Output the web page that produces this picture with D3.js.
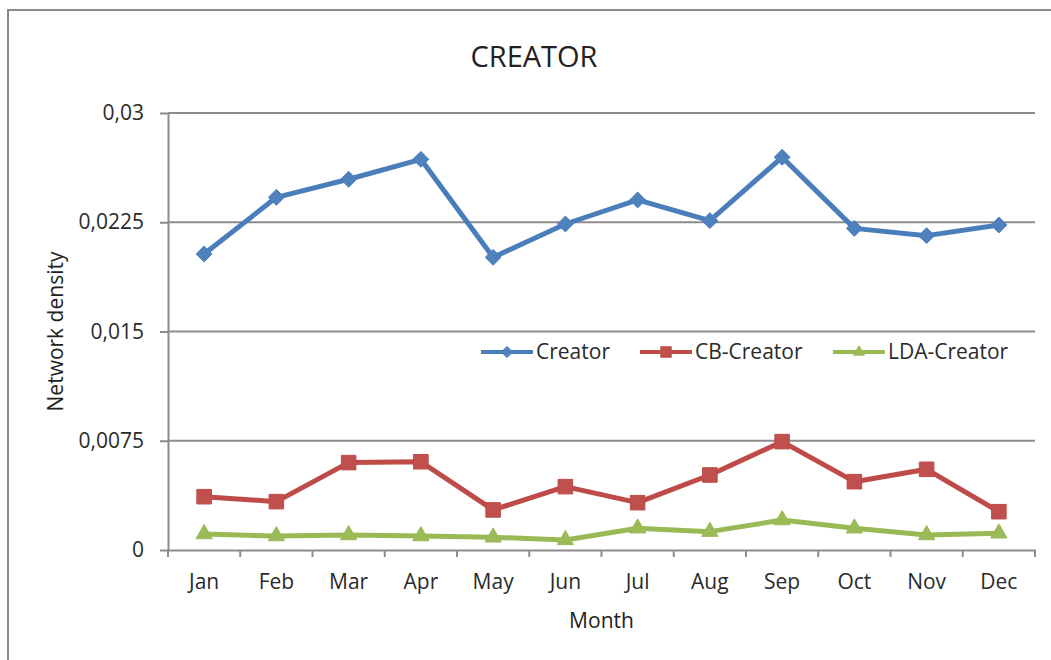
<!DOCTYPE html>
<html>
<head>
<meta charset="utf-8">
<script src="https://cdn.jsdelivr.net/npm/d3@7/dist/d3.min.js"></script>
<style>
  html, body { margin: 0; padding: 0; background: #fff; }
  svg { display: block; font-family: "Open Sans", "Noto Sans", sans-serif; }
</style>
</head>
<body>
<svg id="chart" width="1051" height="660"></svg>
<script>
// Monthly network density for the three creator networks
const months = ["Jan", "Feb", "Mar", "Apr", "May", "Jun", "Jul", "Aug", "Sep", "Oct", "Nov", "Dec"];
const creator = [0.02032, 0.02421, 0.02545, 0.02682, 0.02009, 0.02238, 0.02403, 0.02261, 0.02696, 0.02208, 0.02158, 0.02231];
const cbCreator = [0.00366, 0.00332, 0.00600, 0.00606, 0.00275, 0.00435, 0.00325, 0.00515, 0.00744, 0.00469, 0.00554, 0.00263];
const ldaCreator = [0.00110, 0.00096, 0.00103, 0.00096, 0.00087, 0.00069, 0.00149, 0.00126, 0.00206, 0.00149, 0.00103, 0.00115];
const yTicks = [0, 0.0075, 0.015, 0.0225, 0.03];
const yTickLabels = ["0", "0,0075", "0,015", "0,0225", "0,03"];
const seriesNames = ["Creator", "CB-Creator", "LDA-Creator"];

const series = [
  { name: seriesNames[0], values: creator, line: "#4A7EBB", fill: "#4F81BD", symbol: d3.symbolDiamond2, size: 160, legendSize: 80 },
  { name: seriesNames[1], values: cbCreator, line: "#BE4B48", fill: "#C0504D", symbol: d3.symbolSquare2, size: 270, legendSize: 140 },
  { name: seriesNames[2], values: ldaCreator, line: "#98B954", fill: "#9BBB59", symbol: d3.symbolTriangle2, size: 190, legendSize: 85 }
];

const svg = d3.select("#chart");
const plot = { left: 168, right: 1035, top: 113, bottom: 550 };

// Chart frame
svg.append("rect")
  .attr("x", 8).attr("y", 10)
  .attr("width", 1100).attr("height", 700)
  .attr("fill", "#fff")
  .attr("stroke", "#8a8a8a").attr("stroke-width", 2);

const x = d3.scaleBand().domain(months).range([plot.left, plot.right]);
const y = d3.scaleLinear().domain([0, 0.03]).range([plot.bottom, plot.top]);
const cx = m => x(m) + x.bandwidth() / 2;

// Horizontal gridlines
svg.append("g")
  .selectAll("line")
  .data(yTicks.filter(t => t > 0))
  .join("line")
  .attr("x1", plot.left).attr("x2", plot.right)
  .attr("y1", d => y(d)).attr("y2", d => y(d))
  .attr("stroke", "#8c8c8c").attr("stroke-width", 2);

// Y axis
const yAxis = svg.append("g")
  .attr("transform", `translate(${plot.left},0)`)
  .call(d3.axisLeft(y).tickValues(yTicks)
    .tickFormat((d, i) => yTickLabels[i])
    .tickSize(8).tickSizeOuter(0).tickPadding(16));
yAxis.select(".domain").attr("stroke", "#8c8c8c").attr("stroke-width", 2);
yAxis.selectAll(".tick line").attr("stroke", "#8c8c8c").attr("stroke-width", 2);
yAxis.selectAll(".tick text")
  .attr("font-size", 21).attr("fill", "#2a2a2a")
  .attr("font-family", "'Open Sans', sans-serif");

// X axis: labels centred in each band, tick marks on band boundaries
const xAxis = svg.append("g")
  .attr("transform", `translate(0,${plot.bottom})`)
  .call(d3.axisBottom(x).tickSize(0).tickPadding(24));
xAxis.select(".domain").attr("stroke", "#8c8c8c").attr("stroke-width", 2);
xAxis.selectAll(".tick text")
  .attr("font-size", 21).attr("fill", "#2a2a2a")
  .attr("font-family", "'Open Sans', sans-serif");
const boundaries = months.map(m => x(m)).concat([x(months[months.length - 1]) + x.bandwidth()]);
xAxis.append("g")
  .selectAll("line")
  .data(boundaries)
  .join("line")
  .attr("x1", d => d).attr("x2", d => d)
  .attr("y1", 0).attr("y2", 7)
  .attr("stroke", "#8c8c8c").attr("stroke-width", 2);

// Series lines and markers
const line = d3.line().x((d, i) => cx(months[i])).y(d => y(d));
series.forEach(s => {
  svg.append("path")
    .datum(s.values)
    .attr("d", line)
    .attr("fill", "none")
    .attr("stroke", s.line)
    .attr("stroke-width", 5)
    .attr("stroke-linejoin", "round");
  svg.append("g")
    .selectAll("path")
    .data(s.values)
    .join("path")
    .attr("transform", (d, i) => `translate(${cx(months[i])},${y(d)})`)
    .attr("d", d3.symbol().type(s.symbol).size(s.size))
    .attr("fill", s.fill)
    .attr("stroke", s.line)
    .attr("stroke-width", 1);
});

// Legend
const legendX = [481, 640, 833];
const legendY = 352;
series.forEach((s, i) => {
  const g = svg.append("g").attr("transform", `translate(${legendX[i]},${legendY})`);
  g.append("line")
    .attr("x1", 0).attr("x2", 52).attr("y1", 0).attr("y2", 0)
    .attr("stroke", s.line).attr("stroke-width", 4);
  g.append("path")
    .attr("transform", "translate(26,0)")
    .attr("d", d3.symbol().type(s.symbol).size(s.legendSize))
    .attr("fill", s.fill).attr("stroke", s.line);
  g.append("text")
    .attr("x", 55).attr("y", 0).attr("dy", "0.35em")
    .attr("font-size", 21).attr("fill", "#2a2a2a")
    .text(s.name);
});

// Title and axis titles
svg.append("text")
  .attr("x", 534).attr("y", 67)
  .attr("text-anchor", "middle")
  .attr("font-size", 29).attr("fill", "#222")
  .text("CREATOR");

svg.append("text")
  .attr("x", (plot.left + plot.right) / 2).attr("y", 628)
  .attr("text-anchor", "middle")
  .attr("font-size", 21).attr("fill", "#222")
  .text("Month");

svg.append("text")
  .attr("transform", `translate(63,${(plot.top + plot.bottom) / 2}) rotate(-90)`)
  .attr("text-anchor", "middle")
  .attr("font-size", 21).attr("fill", "#222")
  .text("Network density");
</script>
</body>
</html>
